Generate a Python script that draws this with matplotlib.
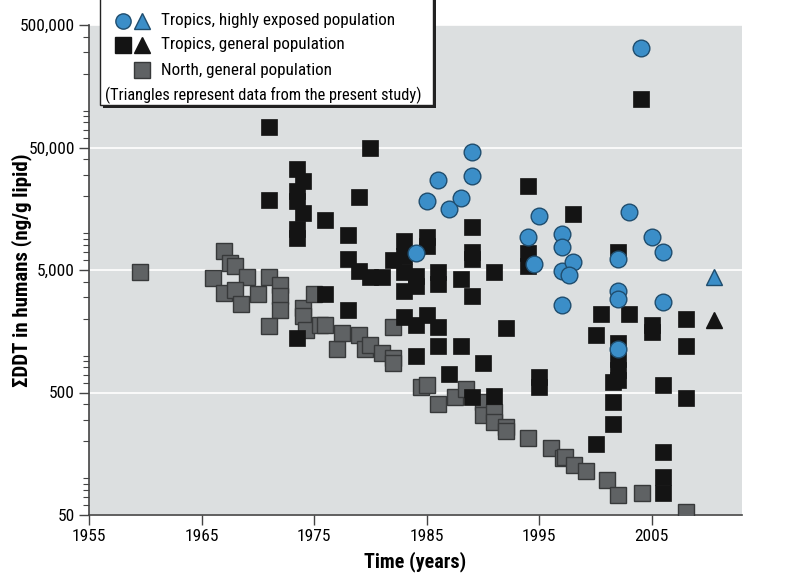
import matplotlib
matplotlib.use("Agg")
import matplotlib.pyplot as plt
from matplotlib import font_manager
from matplotlib.lines import Line2D
from matplotlib.patches import Rectangle
from matplotlib.ticker import FixedLocator, LogLocator, NullFormatter

# pick a condensed face if one is installed
names = {f.name for f in font_manager.fontManager.ttflist}
narrow = [n for n in ['Roboto Condensed', 'Liberation Sans Narrow', 'DejaVu Sans Condensed', 'Roboto']
          if n in names]
plt.rcParams['font.family'] = narrow + ['DejaVu Sans']

# North, general population (grey squares)
north_year = [1959.5, 1967.0, 1967.5, 1968.0, 1966.0, 1969.0, 1971.0, 1967.0, 1968.0,
              1970.0, 1968.5, 1972.0, 1972.0, 1972.0, 1971.0, 1974.0, 1974.0, 1974.3,
              1975.0, 1975.5, 1976.0, 1977.0, 1977.5, 1979.0, 1979.5, 1980.0, 1981.0,
              1982.0, 1982.0, 1982.0, 1984.5, 1985.0, 1986.0, 1987.5, 1988.5, 1990.0,
              1990.0, 1991.0, 1991.0, 1992.0, 1992.0, 1994.0, 1996.0, 1997.1, 1997.3,
              1998.1, 1999.1, 2001.0, 2002.0, 2004.1, 2008.0]
north_val = [4800, 7100, 5700, 5400, 4300, 4400, 4400, 3250, 3450,
             3200, 2650, 3750, 3050, 2350, 1730, 2460, 2090, 1610,
             3200, 1770, 1790, 1140, 1530, 1480, 1140, 1230, 1050,
             1710, 950, 865, 555, 575, 400, 460, 530, 420,
             326, 347, 288, 262, 243, 211, 175, 145, 150,
             128, 115, 96, 73, 75, 53]

# Tropics, general population (black squares)
trop_year = [1971.0, 1971.0, 1973.5, 1974.0, 1973.5, 1973.5, 1974.0, 1973.5, 1973.5,
             1973.5, 1976.0, 1976.0, 1978.0, 1978.0, 1978.0, 1979.0, 1979.0, 1980.0,
             1980.0, 1981.0, 1982.0, 1983.0, 1983.0, 1983.0, 1983.0, 1984.0, 1984.0,
             1985.0, 1985.0, 1986.0, 1986.0, 1988.0, 1989.0, 1989.0, 1989.0, 1989.0,
             1991.0, 1994.0, 1994.0, 1994.0, 1983.0, 1984.0, 1985.0, 1986.0, 1984.0,
             1986.0, 1988.0, 1990.0, 1992.0, 1987.0, 1989.0, 1991.0, 1995.0, 1995.0,
             2004.0, 1998.0, 2002.0, 2000.5, 2003.0, 2005.0, 2005.0, 2008.0, 2008.0,
             2000.0, 2002.0, 2002.0, 2002.0, 2002.0, 2001.5, 2001.5, 2001.5, 2006.0,
             2008.0, 2000.0, 2006.0, 2006.0, 2006.0]
trop_val = [74000, 18800, 33400, 26500, 22200, 18400, 14700, 10800, 9100,
            1400, 12900, 3200, 9700, 6170, 2340, 19900, 4950, 49500,
            4370, 4370, 5980, 8700, 6560, 4800, 3400, 4500, 3700,
            9250, 7900, 4800, 3850, 4250, 11200, 7000, 6170, 3050,
            4800, 24400, 6860, 5440, 2070, 1770, 2130, 1710, 990,
            1190, 1190, 870, 1680, 705, 460, 465, 670, 555,
            125500, 14300, 7000, 2200, 2200, 1770, 1560, 2000, 1190,
            1460, 1260, 946, 760, 630, 610, 420, 275, 580,
            447, 189, 164, 103, 75]

# Tropics, highly exposed population (blue circles)
exp_year = [1989.0, 1989.0, 1986.0, 1985.0, 1987.0, 1988.0, 1995.0, 1994.0, 1994.5,
            1984.0, 2004.0, 2003.0, 1997.0, 1997.0, 1997.0, 1998.0, 1997.6, 2005.0,
            2006.0, 2002.0, 2002.0, 2002.0, 2006.0, 1997.0, 2002.0]
exp_val = [45600, 29400, 27300, 18400, 15600, 19400, 13800, 9250, 5620,
           6860, 326000, 14800, 9860, 7760, 4890, 5790, 4570, 9250,
           6980, 6170, 3400, 2910, 2735, 2570, 1140]

# present study (triangles)
study_year = [2010.5, 2010.5]
study_val = [4370, 1940]
study_colors = ['#3b8ec8', '#141414']
study_edges = ['#1f4d6e', '#141414']

BG = '#dcdfe0'
GREY, GREY_E = '#5f6264', '#37393a'
BLACK = '#141414'
BLUE, BLUE_E = '#3b8ec8', '#1f4d6e'

fig = plt.figure(figsize=(8, 5.75), dpi=100)
ax = fig.add_axes([89 / 800, 1 - 515 / 575, 653 / 800, 490 / 575])
ax.set_facecolor(BG)

ax.plot(north_year, north_val, ls='none', marker='s', ms=12, mfc=GREY, mec=GREY_E, mew=1, zorder=3)
ax.plot(trop_year, trop_val, ls='none', marker='s', ms=12, mfc=BLACK, mec=BLACK, mew=0.5, zorder=4)
ax.plot(exp_year, exp_val, ls='none', marker='o', ms=12, mfc=BLUE, mec=BLUE_E, mew=1, zorder=5)
for yr, v, c, e in zip(study_year, study_val, study_colors, study_edges):
    ax.plot([yr], [v], ls='none', marker='^', ms=12, mfc=c, mec=e, mew=1, zorder=5)

ax.set_yscale('log')
ax.set_ylim(50, 500000)
ax.set_xlim(1955, 2013)

yt = [50, 500, 5000, 50000, 500000]
ax.yaxis.set_major_locator(FixedLocator(yt))
ax.set_yticklabels([f"{v:,}" for v in yt])
ax.yaxis.set_minor_locator(LogLocator(base=10, subs=range(1, 10), numticks=20))
ax.yaxis.set_minor_formatter(NullFormatter())
ax.set_xticks([1955, 1965, 1975, 1985, 1995, 2005])

ax.grid(axis='y', which='major', color='white', lw=1.2)
ax.set_axisbelow(True)
for s in ['top', 'right']:
    ax.spines[s].set_visible(False)
for s in ['left', 'bottom']:
    ax.spines[s].set_color('#444444')
    ax.spines[s].set_linewidth(1.2)

ax.tick_params(axis='both', which='major', labelsize=12.5, length=7, width=1, color='#444444', pad=3)
ax.tick_params(axis='y', which='minor', length=4, width=0.8, color='#444444')

ax.set_xlabel('Time (years)', fontsize=14.5, fontweight='bold', labelpad=5)
ax.set_ylabel('ΣDDT in humans (ng/g lipid)', fontsize=15, fontweight='bold')
ax.yaxis.set_label_coords(-0.088, 0.5)

# legend box drawn in pixel units
lg = fig.add_axes([100 / 800, 1 - 105 / 575, 333 / 800, 105 / 575])
lg.set_xlim(0, 333)
lg.set_ylim(105, 0)
lg.axis('off')
lg.add_patch(Rectangle((3, -2), 333, 110, facecolor='#222222', edgecolor='none', clip_on=False, zorder=1))
lg.add_patch(Rectangle((0, -5), 333, 110, facecolor='white', edgecolor='#222222', lw=1, clip_on=False, zorder=2))
ms_leg = 11
lg.add_line(Line2D([23], [21], ls='none', marker='o', ms=ms_leg, mfc=BLUE, mec=BLUE_E, zorder=3))
lg.add_line(Line2D([42], [21], ls='none', marker='^', ms=ms_leg, mfc=BLUE, mec=BLUE_E, zorder=3))
lg.add_line(Line2D([23], [45], ls='none', marker='s', ms=ms_leg, mfc=BLACK, mec=BLACK, zorder=3))
lg.add_line(Line2D([42], [45], ls='none', marker='^', ms=ms_leg, mfc=BLACK, mec=BLACK, zorder=3))
lg.add_line(Line2D([42], [70], ls='none', marker='s', ms=ms_leg, mfc=GREY, mec=GREY_E, zorder=3))
lg.text(61, 21, 'Tropics, highly exposed population', fontsize=12.3, va='center', zorder=3)
lg.text(61, 45, 'Tropics, general population', fontsize=12.3, va='center', zorder=3)
lg.text(61, 70, 'North, general population', fontsize=12.3, va='center', zorder=3)
lg.text(5, 95, '(Triangles represent data from the present study)', fontsize=11.8, va='center', zorder=3)

fig.savefig('out.png', dpi=100)
